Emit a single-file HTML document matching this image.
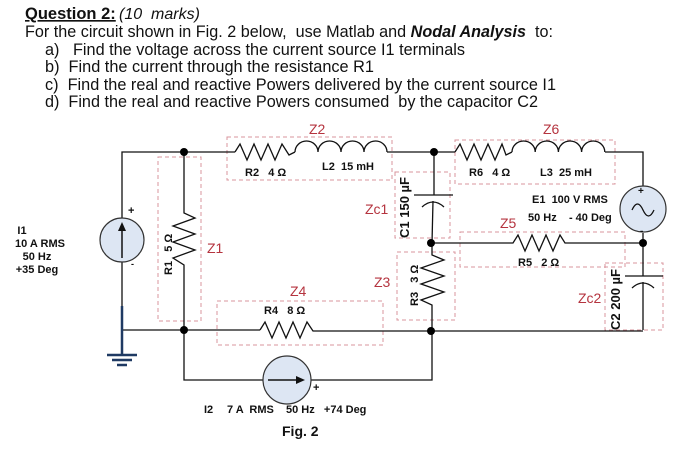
<!DOCTYPE html>
<html><head><meta charset="utf-8"><style>
html,body{margin:0;padding:0;background:#fff;width:691px;height:461px;overflow:hidden}
svg{display:block}
.t{font-family:"Liberation Sans",Arial,sans-serif}
text{white-space:pre}
</style></head><body>
<svg width="691" height="461" viewBox="0 0 691 461" xmlns="http://www.w3.org/2000/svg" class="t" xml:space="preserve">
<g font-size="16.5" fill="#111">
<text x="25" y="19" font-weight="bold" text-decoration="underline">Question 2:</text>
<text x="119" y="19" font-style="italic" font-size="16">(10  marks)</text>
<text x="25" y="37" textLength="528" lengthAdjust="spacingAndGlyphs">For the circuit shown in Fig. 2 below,  use Matlab and <tspan font-weight="bold" font-style="italic">Nodal Analysis</tspan>  to:</text>
<text x="45" y="55" textLength="420" lengthAdjust="spacingAndGlyphs">a)   Find the voltage across the current source I1 terminals</text>
<text x="45" y="72" textLength="329" lengthAdjust="spacingAndGlyphs">b)  Find the current through the resistance R1</text>
<text x="45" y="90" textLength="511" lengthAdjust="spacingAndGlyphs">c)  Find the real and reactive Powers delivered by the current source I1</text>
<text x="45" y="107" textLength="493" lengthAdjust="spacingAndGlyphs">d)  Find the real and reactive Powers consumed  by the capacitor C2</text>
</g>
<g fill="none" stroke="#d8949c" stroke-width="1" stroke-dasharray="4,3">
<rect x="158" y="157" width="43" height="164"/>
<rect x="227" y="137" width="165" height="43"/>
<rect x="395" y="172" width="55" height="66"/>
<rect x="455" y="140" width="160" height="44"/>
<rect x="460" y="232" width="165" height="35"/>
<rect x="397" y="252" width="58" height="68"/>
<rect x="605" y="263" width="58" height="67"/>
<rect x="217" y="301" width="166" height="44"/>
</g>
<g fill="none" stroke="#111" stroke-width="1.3">
<polyline points="122,218 122,152 235,152"/>
<line x1="122" y1="262" x2="122" y2="306"/>
<line x1="122" y1="330" x2="260" y2="330"/>
<polyline points="184,152 184,213 195,218 173,226 195,234 173,242 195,250 173,258 184,265 184,330"/>
<polyline points="235,152 240,144 247,160 254,144 261,160 268,144 275,160 282,144 289,155 295,152"/>
<path d="M295,152 a11.5,11 0 0 1 23,0 a11.5,11 0 0 1 23,0 a11.5,11 0 0 1 23,0 a11.5,11 0 0 1 23,0"/>
<polyline points="387,152 455,152"/>
<polyline points="455,152 460,144 467,160 474,144 481,160 488,144 495,160 502,144 506,155 512,152"/>
<path d="M512,152 a11.6,11 0 0 1 23.2,0 a11.6,11 0 0 1 23.2,0 a11.6,11 0 0 1 23.2,0 a11.6,11 0 0 1 23.2,0"/>
<polyline points="605,152 643,152 643,187"/>
<line x1="434" y1="152" x2="434" y2="195"/>
<line x1="414" y1="195" x2="453" y2="195"/>
<path d="M422,207 Q433,197 444,207"/>
<line x1="433" y1="201" x2="432" y2="243"/>
<polyline points="432,243 513,243 518,235 525,251 532,235 539,251 546,235 553,251 560,235 565,243 643,243"/>
<line x1="643" y1="233" x2="643" y2="276"/>
<line x1="625" y1="276" x2="663" y2="276"/>
<path d="M632,288 Q643,278 654,288"/>
<line x1="643" y1="282" x2="643" y2="330"/>
<polyline points="432,243 432,255 444,260 421,268 444,276 421,284 444,292 421,300 432,305 432,330"/>
<polyline points="260,330 265,322 272,338 279,322 286,338 293,322 300,338 307,322 313,331 643,331"/>
<polyline points="184,330 184,380 263,380"/>
<polyline points="311,380 432,380 432,330"/>
</g>
<line x1="122" y1="306" x2="122" y2="355" stroke="#1f3a63" stroke-width="2.5"/>
<line x1="107" y1="355" x2="137" y2="355" stroke="#1f3a63" stroke-width="2.5"/>
<line x1="112" y1="360" x2="132" y2="360" stroke="#1f3a63" stroke-width="2.5"/>
<line x1="117" y1="365" x2="127" y2="365" stroke="#1f3a63" stroke-width="2.5"/>
<g stroke="#333" stroke-width="1.2" fill="#dde6f3">
<circle cx="122" cy="240" r="22"/>
<circle cx="643" cy="209" r="23"/>
<circle cx="287" cy="380" r="24"/>
</g>
<line x1="122" y1="258" x2="122" y2="228" stroke="#111" stroke-width="1.5"/>
<polygon points="122,222 118,231 126,231" fill="#111"/>
<line x1="268" y1="380" x2="298" y2="380" stroke="#111" stroke-width="1.5"/>
<polygon points="305,380 296,376 296,384" fill="#111"/>
<path d="M632,210 q5.5,-12 11,0 t11,0" fill="none" stroke="#111" stroke-width="1.3"/>
<g fill="#000">
<circle cx="184" cy="152" r="4"/><circle cx="184" cy="330" r="4"/>
<circle cx="434" cy="152" r="4"/><circle cx="431" cy="243" r="4"/>
<circle cx="643" cy="243" r="4"/><circle cx="431" cy="331" r="4"/>
</g>
<g font-size="11" font-weight="bold" fill="#111">
<text x="128" y="214">+</text><text x="131" y="267" font-size="9">-</text>
<text x="22" y="234" text-anchor="middle">I1</text>
<text x="40" y="247" text-anchor="middle">10 A RMS</text>
<text x="37" y="260" text-anchor="middle">50 Hz</text>
<text x="37" y="273" text-anchor="middle">+35 Deg</text>
<text x="245" y="176">R2   4 Ω</text>
<text x="322" y="170">L2  15 mH</text>
<text x="469" y="176">R6   4 Ω</text>
<text x="540" y="176">L3  25 mH</text>
<text x="532" y="203">E1  100 V RMS</text>
<text x="528" y="221">50 Hz    - 40 Deg</text>
<text x="638" y="194" font-size="10">+</text>
<text x="640" y="234" font-size="10">-</text>
<text x="518" y="266">R5   2 Ω</text>
<text x="264" y="314">R4   8 Ω</text>
<text x="313" y="391">+</text>
<text x="204" y="413">I2</text>
<text x="227" y="413">7 A  RMS</text>
<text x="286" y="413">50 Hz   +74 Deg</text>
<text x="282" y="436" font-size="14">Fig. 2</text>
<text transform="translate(172,275) rotate(-90)">R1   5 Ω</text>
<text transform="translate(418,306) rotate(-90)">R3   3 Ω</text>
<text transform="translate(409,238) rotate(-90)" font-size="13">C1 150 µF</text>
<text transform="translate(620,330) rotate(-90)" font-size="13">C2 200 µF</text>
</g>
<g font-size="14" fill="#b5343f">
<text x="309" y="134">Z2</text>
<text x="543" y="134">Z6</text>
<text x="365" y="214">Zc1</text>
<text x="207" y="253">Z1</text>
<text x="500" y="228">Z5</text>
<text x="374" y="287">Z3</text>
<text x="290" y="296">Z4</text>
<text x="578" y="303">Zc2</text>
</g>
</svg>
</body></html>
